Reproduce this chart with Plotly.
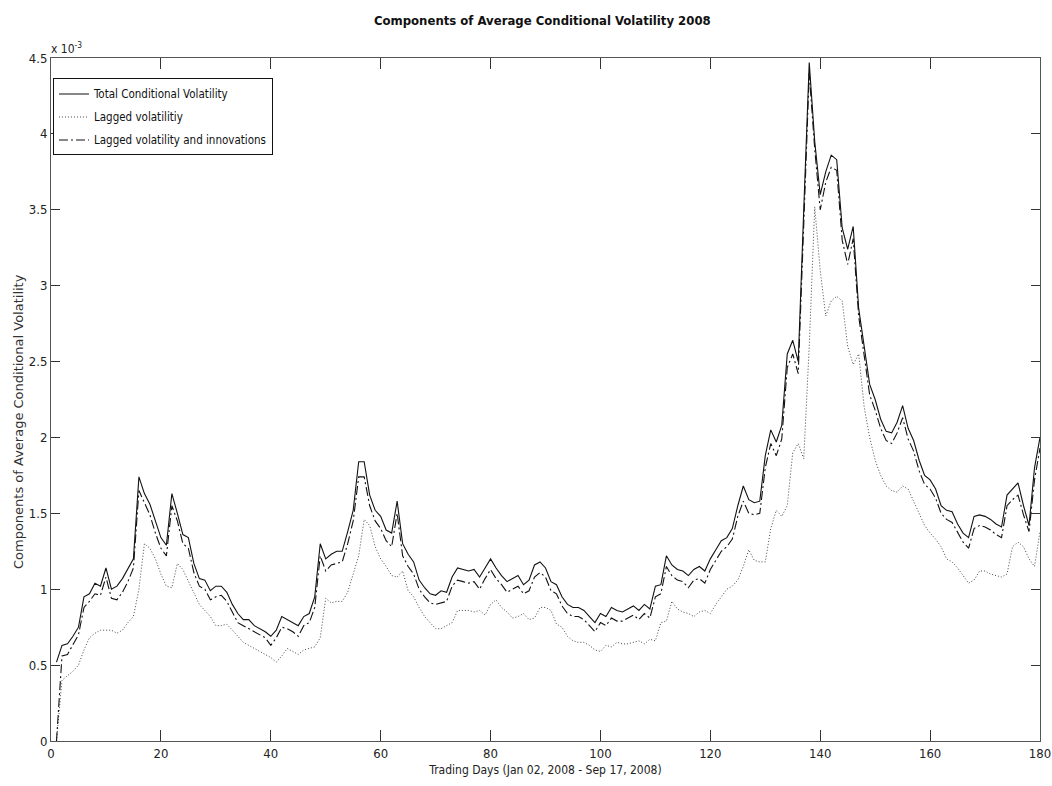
import plotly.graph_objects as go

days = list(range(1, 181))

total = [0.52,0.63,0.64,0.69,0.75,0.95,0.97,1.04,1.02,1.14,
         1.00,1.02,1.07,1.14,1.20,1.74,1.63,1.56,1.45,1.34,
         1.29,1.63,1.50,1.36,1.34,1.17,1.07,1.06,0.99,1.02,
         1.02,0.98,0.90,0.84,0.80,0.80,0.76,0.74,0.72,0.69,
         0.73,0.82,0.80,0.78,0.76,0.82,0.84,0.95,1.30,1.20,
         1.23,1.25,1.25,1.38,1.52,1.84,1.84,1.62,1.52,1.48,
         1.39,1.37,1.58,1.30,1.23,1.18,1.06,1.01,0.97,0.96,
         0.99,0.98,1.08,1.14,1.13,1.12,1.13,1.08,1.14,1.20,
         1.14,1.09,1.05,1.07,1.09,1.03,1.06,1.16,1.18,1.14,
         1.05,1.03,0.95,0.90,0.88,0.88,0.86,0.82,0.78,0.84,
         0.82,0.88,0.86,0.85,0.87,0.89,0.86,0.90,0.87,1.02,
         1.03,1.22,1.16,1.13,1.12,1.09,1.13,1.15,1.12,1.20,
         1.26,1.32,1.34,1.40,1.55,1.68,1.59,1.57,1.58,1.88,
         2.05,1.97,2.08,2.55,2.64,2.50,3.50,4.47,3.95,3.60,
         3.75,3.86,3.83,3.38,3.24,3.39,2.85,2.60,2.35,2.25,
         2.12,2.04,2.03,2.10,2.21,2.06,1.98,1.85,1.75,1.72,
         1.66,1.55,1.52,1.51,1.43,1.37,1.34,1.48,1.49,1.48,
         1.46,1.43,1.41,1.62,1.66,1.70,1.55,1.42,1.80,2.00]

lagged = [0.00,0.40,0.43,0.46,0.50,0.60,0.68,0.71,0.73,0.73,
          0.73,0.71,0.73,0.78,0.82,1.00,1.30,1.27,1.20,1.10,
          1.02,1.01,1.17,1.13,1.05,0.98,0.90,0.86,0.82,0.76,
          0.76,0.77,0.73,0.69,0.65,0.63,0.61,0.59,0.57,0.55,
          0.52,0.56,0.61,0.59,0.57,0.60,0.61,0.62,0.68,0.94,
          0.91,0.92,0.92,0.98,1.10,1.22,1.46,1.42,1.28,1.20,
          1.15,1.09,1.08,1.12,0.99,0.95,0.88,0.82,0.78,0.74,
          0.74,0.76,0.78,0.86,0.86,0.86,0.85,0.86,0.83,0.90,
          0.93,0.88,0.85,0.81,0.82,0.84,0.80,0.81,0.88,0.88,
          0.86,0.77,0.75,0.69,0.66,0.65,0.65,0.63,0.60,0.59,
          0.63,0.62,0.65,0.64,0.64,0.65,0.66,0.64,0.67,0.66,
          0.78,0.79,0.92,0.87,0.85,0.84,0.82,0.85,0.86,0.84,
          0.90,0.95,1.00,1.02,1.06,1.15,1.26,1.19,1.18,1.18,
          1.40,1.52,1.48,1.55,1.90,1.96,1.86,2.60,3.52,3.10,
          2.80,2.90,2.93,2.90,2.60,2.48,2.55,2.20,2.00,1.85,
          1.75,1.68,1.65,1.64,1.68,1.66,1.58,1.50,1.42,1.37,
          1.33,1.28,1.20,1.18,1.14,1.09,1.04,1.06,1.12,1.12,
          1.10,1.09,1.08,1.10,1.28,1.31,1.28,1.20,1.15,1.38]

lagged_innov = [0.00,0.56,0.57,0.64,0.70,0.88,0.92,0.97,0.96,1.08,
                0.94,0.93,0.98,1.05,1.14,1.65,1.57,1.49,1.37,1.27,
                1.22,1.55,1.45,1.30,1.27,1.11,1.02,1.00,0.93,0.95,
                0.96,0.92,0.85,0.78,0.76,0.74,0.72,0.70,0.68,0.63,
                0.68,0.75,0.74,0.72,0.69,0.76,0.78,0.88,1.22,1.12,
                1.16,1.17,1.18,1.30,1.45,1.74,1.74,1.55,1.45,1.40,
                1.32,1.28,1.50,1.22,1.15,1.10,1.00,0.95,0.91,0.90,
                0.91,0.92,1.02,1.06,1.05,1.04,1.05,1.00,1.07,1.13,
                1.07,1.03,0.98,1.00,1.02,0.97,0.99,1.08,1.11,1.08,
                0.99,0.97,0.89,0.84,0.82,0.82,0.80,0.76,0.72,0.78,
                0.76,0.81,0.79,0.79,0.81,0.83,0.80,0.84,0.81,0.95,
                0.97,1.15,1.09,1.06,1.05,1.01,1.06,1.07,1.04,1.13,
                1.19,1.25,1.28,1.33,1.48,1.58,1.50,1.49,1.50,1.80,
                1.96,1.88,1.99,2.46,2.55,2.42,3.40,4.40,3.90,3.50,
                3.68,3.78,3.76,3.30,3.14,3.31,2.80,2.54,2.28,2.18,
                2.06,1.98,1.96,2.03,2.13,1.99,1.91,1.78,1.69,1.66,
                1.60,1.50,1.46,1.44,1.37,1.31,1.27,1.40,1.42,1.41,
                1.39,1.36,1.34,1.55,1.59,1.62,1.49,1.38,1.72,1.93]

x_ticks = [0, 20, 40, 60, 80, 100, 120, 140, 160, 180]
y_ticks = [0, 0.5, 1, 1.5, 2, 2.5, 3, 3.5, 4, 4.5]
y_ticklabels = ["0", "0.5", "1", "1.5", "2", "2.5", "3", "3.5", "4", "4.5"]

FONT = "Liberation Sans Narrow, DejaVu Sans Condensed, Arial Narrow, sans-serif"

fig = go.Figure()
fig.add_trace(go.Scatter(x=days, y=total, mode="lines", name="Total Conditional Volatility",
                         legendgroup="a", line=dict(color="#111111", width=1.1)))
fig.add_trace(go.Scatter(x=days, y=lagged, mode="lines", name="Lagged volatilitiy",
                         legendgroup="b", line=dict(color="#444444", width=1, dash="1px,2px")))
fig.add_trace(go.Scatter(x=days, y=lagged_innov, mode="lines", name="Lagged volatility and innovations",
                         legendgroup="c", line=dict(color="#111111", width=1.1, dash="9px,3px,2px,3px")))

axis_common = dict(showgrid=False, zeroline=False, showline=True, linecolor="#555555",
                   linewidth=1, mirror="ticks", ticks="inside", tickcolor="#333333",
                   automargin=False,
                   tickfont=dict(family=FONT, size=13, color="#222222"))

fig.update_xaxes(range=[0, 180], tickvals=x_ticks, ticklen=11,
                 title=dict(text="Trading Days (Jan 02, 2008 - Sep 17, 2008)",
                            font=dict(family=FONT, size=12, color="#222222"), standoff=6),
                 **axis_common)
fig.update_yaxes(range=[0, 4.5], tickvals=y_ticks, ticktext=y_ticklabels, ticklen=9,
                 **axis_common)

fig.update_layout(
    width=1052, height=786,
    margin=dict(l=51, r=12, t=58, b=45),
    paper_bgcolor="white", plot_bgcolor="white",
    title=dict(text="<b>Components of Average Conditional Volatility 2008</b>",
               x=0.5155, xanchor="center", y=0.98, yanchor="top",
               font=dict(family=FONT, size=13, color="#111111")),
    legend=dict(x=0.002, y=0.97, xanchor="left", yanchor="top",
                bgcolor="white", bordercolor="#111111", borderwidth=1,
                font=dict(family=FONT, size=11.5, color="#111111"),
                itemwidth=30, tracegroupgap=4),
    showlegend=True,
)

fig.add_annotation(x=0, y=0.467, xref="paper", yref="paper", xanchor="center", yanchor="middle",
                   text="Components of Average Conditional Volatility", textangle=-90,
                   showarrow=False, xshift=-33,
                   font=dict(family="DejaVu Sans, sans-serif", size=13, color="#333333"))

fig.add_annotation(x=0, y=1, xref="paper", yref="paper", xanchor="left", yanchor="bottom",
                   text="x 10<sup>-3</sup>", showarrow=False, xshift=-2, yshift=0,
                   font=dict(family=FONT, size=12, color="#222222"))

fig.write_html("out.html", config={"displayModeBar": False},
               post_script="document.body.style.margin='0px';document.body.style.overflow='hidden';")
